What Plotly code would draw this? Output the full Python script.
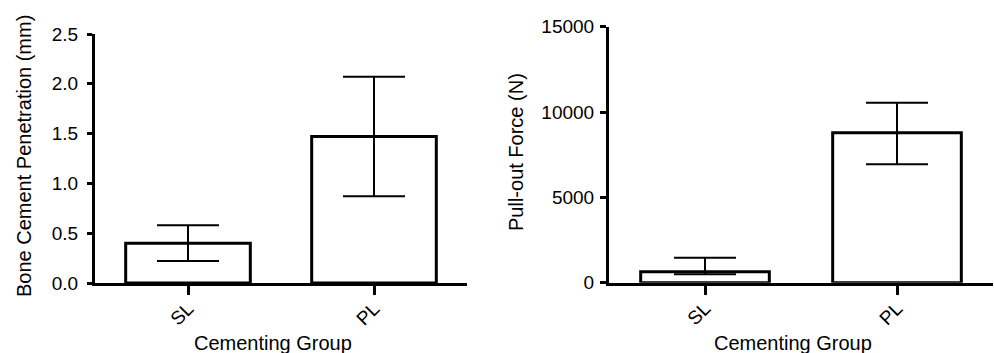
import plotly.graph_objects as go

categories = ["SL", "PL"]
penetration_mean = [0.40, 1.47]
penetration_err = [0.18, 0.60]
force_mean = [645, 8790]
force_err_plus = [820, 1760]
force_err_minus = [155, 1850]

pen_ticks = [0, 0.5, 1.0, 1.5, 2.0, 2.5]
force_ticks = [0, 5000, 10000, 15000]

W, H = 994, 353
FONT = "Liberation Sans, Arial, sans-serif"

fig = go.Figure()
fig.add_trace(go.Bar(
    x=categories, y=penetration_mean, width=0.67,
    marker=dict(color="white", line=dict(color="black", width=3)),
    error_y=dict(type="data", array=penetration_err, color="black", thickness=2, width=31),
    xaxis="x", yaxis="y", showlegend=False))
fig.add_trace(go.Bar(
    x=categories, y=force_mean, width=0.67,
    marker=dict(color="white", line=dict(color="black", width=3)),
    error_y=dict(type="data", symmetric=False, array=force_err_plus, arrayminus=force_err_minus,
                 color="black", thickness=2, width=31),
    xaxis="x2", yaxis="y2", showlegend=False))

axis_common = dict(showline=True, linecolor="black", linewidth=3, showgrid=False, zeroline=False,
                   automargin=False, ticks="outside", tickcolor="black", tickwidth=3,
                   tickfont=dict(family=FONT, size=19, color="black"))

fig.update_layout(
    template="none",
    width=W, height=H, margin=dict(l=0, r=0, t=0, b=0, pad=0),
    paper_bgcolor="white", plot_bgcolor="white",
    xaxis=dict(domain=[95 / W, 467 / W], range=[-0.5, 1.5], anchor="y", tickangle=-45, ticklen=9,
               ticklabelstandoff=-5, **axis_common),
    yaxis=dict(domain=[1 - 283 / H, 1 - 34 / H], range=[0, 2.5], anchor="x", tickvals=pen_ticks,
               tickformat=".1f", ticklen=5, ticklabelstandoff=5, **axis_common),
    xaxis2=dict(domain=[609 / W, 993 / W], range=[-0.5, 1.5], anchor="y2", tickangle=-45, ticklen=9,
                ticklabelstandoff=-5, **axis_common),
    yaxis2=dict(domain=[1 - 282.7 / H, 1 - 26.7 / H], range=[0, 15000], anchor="x2", tickvals=force_ticks,
                tickformat="d", ticklen=6, ticklabelstandoff=2, **axis_common),
)

title_font = dict(family=FONT, size=20, color="black")
fig.add_annotation(text="Bone Cement Penetration (mm)", x=24 / W, y=1 - 156 / H, xref="paper", yref="paper",
                   textangle=-90, showarrow=False, font=title_font, xanchor="center", yanchor="middle")
fig.add_annotation(text="Pull-out Force (N)", x=516 / W, y=1 - 152 / H, xref="paper", yref="paper",
                   textangle=-90, showarrow=False, font=title_font, xanchor="center", yanchor="middle")
fig.add_annotation(text="Cementing Group", x=273 / W, y=1 - 343 / H, xref="paper", yref="paper",
                   showarrow=False, font=title_font, xanchor="center", yanchor="middle", borderpad=0)
fig.add_annotation(text="Cementing Group", x=793 / W, y=1 - 343 / H, xref="paper", yref="paper",
                   showarrow=False, font=title_font, xanchor="center", yanchor="middle", borderpad=0)

fig.write_html("out.html", config={"displayModeBar": False},
               post_script="document.body.style.margin='0';document.body.style.overflow='hidden';")
